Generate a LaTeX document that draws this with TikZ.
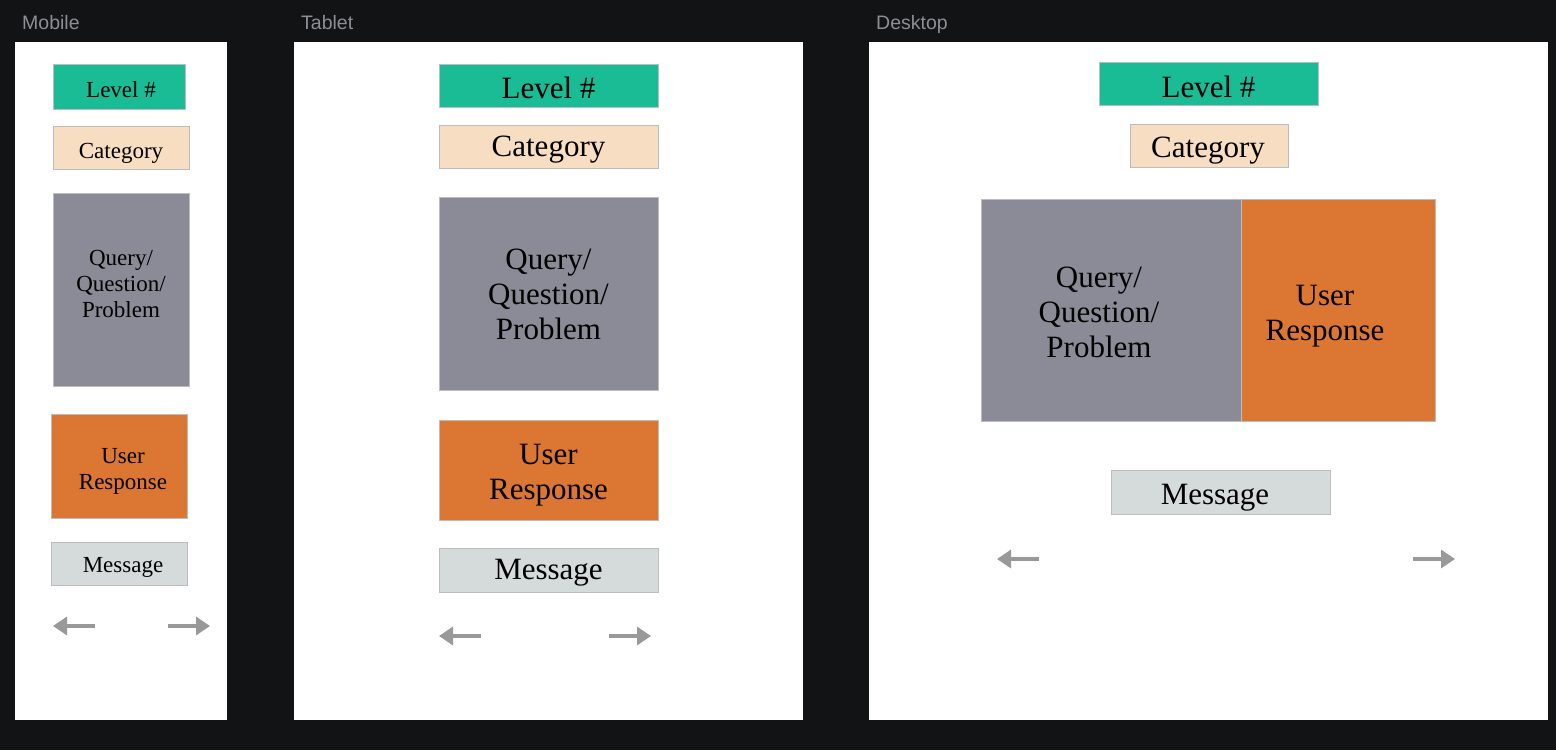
\documentclass[tikz,border=0pt]{standalone}
\usepackage{fontspec}
\setmainfont{Liberation Serif}
\newfontfamily\uisans{Liberation Sans}
\usetikzlibrary{arrows.meta}
\definecolor{bgdark}{HTML}{121315}
\definecolor{lvlgreen}{HTML}{1ABC96}
\definecolor{catpeach}{HTML}{F7DDC1}
\definecolor{qrygray}{HTML}{8A8B96}
\definecolor{usrorange}{HTML}{DC7633}
\definecolor{msggray}{HTML}{D5DBDB}
\definecolor{edgegray}{HTML}{BDBDBD}
\definecolor{arrowgray}{HTML}{999999}
\definecolor{labelgray}{HTML}{8E8E93}
\tikzset{
  box/.style={draw=edgegray, line width=1pt, inner sep=0pt, outer sep=0pt},
  lbl/.style={inner sep=0pt, align=center, text=black},
  small/.style={lbl, font=\fontsize{23}{26}\selectfont},
  big/.style={lbl, font=\fontsize{31}{35}\selectfont},
  plabel/.style={anchor=base west, text=labelgray, font=\uisans\fontsize{19.5}{22}\selectfont, inner sep=0pt},
  navarrow/.style={draw=arrowgray, line width=3.3pt, -{Triangle[length=14pt,width=18pt]}}
}
\begin{document}
\begin{tikzpicture}[x=1pt,y=-1pt]
\useasboundingbox (0,0) rectangle (1556,750);
\fill[bgdark] (0,0) rectangle (1556,750);
% panels
\fill[white] (15,42) rectangle (227,720);
\fill[white] (294,42) rectangle (803,720);
\fill[white] (869,42) rectangle (1548,720);
\node[plabel] (lm) at (22,29) {Mobile};
\node[plabel] (lt) at (301,29) {Tablet};
\node[plabel] (ld) at (876,29) {Desktop};
% Mobile
\node[box, fill=lvlgreen, minimum width=132, minimum height=45] (mlvl) at (119,86.5) {};
\node[box, fill=catpeach, minimum width=136, minimum height=43] (mcat) at (121,147.5) {};
\node[box, fill=qrygray, minimum width=136, minimum height=193] (mqry) at (121,289.5) {};
\node[box, fill=usrorange, minimum width=136, minimum height=104] (musr) at (119,466) {};
\node[box, fill=msggray, minimum width=136, minimum height=43] (mmsg) at (119,563.5) {};
\node[small] (mlvlt) at (121,89.5) {Level \#};
\node[small] (mcatt) at (121,153) {Category};
\node[small] (mqryt) at (121,283.5) {Query/\\Question/\\Problem};
\node[small] (musrt) at (123,471) {User\\Response};
\node[small] (mmsgt) at (123,567.5) {Message};
\coordinate (mla) at (95,626); \coordinate (mlb) at (53,626);
\coordinate (mra) at (168,626); \coordinate (mrb) at (210,626);
\draw[navarrow] (mla) -- (mlb);
\draw[navarrow] (mra) -- (mrb);
% Tablet
\node[box, fill=lvlgreen, minimum width=219, minimum height=43] (tlvl) at (548.5,85.5) {};
\node[box, fill=catpeach, minimum width=219, minimum height=43] (tcat) at (548.5,146.5) {};
\node[box, fill=qrygray, minimum width=219, minimum height=193] (tqry) at (548.5,293.5) {};
\node[box, fill=usrorange, minimum width=219, minimum height=100] (tusr) at (548.5,470) {};
\node[box, fill=msggray, minimum width=219, minimum height=44] (tmsg) at (548.5,570) {};
\node[big] (tlvlt) at (548.5,87.5) {Level \#};
\node[big] (tcatt) at (548.5,150) {Category};
\node[big] (tqryt) at (548.5,294.5) {Query/\\Question/\\Problem};
\node[big] (tusrt) at (548.5,475) {User\\Response};
\node[big] (tmsgt) at (548.5,573) {Message};
\coordinate (tla) at (481,636); \coordinate (tlb) at (439,636);
\coordinate (tra) at (609,636); \coordinate (trb) at (651,636);
\draw[navarrow] (tla) -- (tlb);
\draw[navarrow] (tra) -- (trb);
% Desktop
\node[box, fill=lvlgreen, minimum width=219, minimum height=43] (dlvl) at (1208.5,83.5) {};
\node[box, fill=catpeach, minimum width=158, minimum height=43] (dcat) at (1209,145.5) {};
\node[box, fill=qrygray, minimum width=260, minimum height=222] (dqry) at (1111,310) {};
\node[box, fill=usrorange, minimum width=194, minimum height=222] (dusr) at (1338,310) {};
\node[box, fill=msggray, minimum width=219, minimum height=44] (dmsg) at (1220.5,492) {};
\node[big] (dlvlt) at (1208.5,86.5) {Level \#};
\node[big] (dcatt) at (1208,151) {Category};
\node[big] (dqryt) at (1099,312) {Query/\\Question/\\Problem};
\node[big] (dusrt) at (1325,316) {User\\Response};
\node[big] (dmsgt) at (1215,497.5) {Message};
\coordinate (dla) at (1039,559); \coordinate (dlb) at (997,559);
\coordinate (dra) at (1413,559); \coordinate (drb) at (1455,559);
\draw[navarrow] (dla) -- (dlb);
\draw[navarrow] (dra) -- (drb);
\end{tikzpicture}
\end{document}
